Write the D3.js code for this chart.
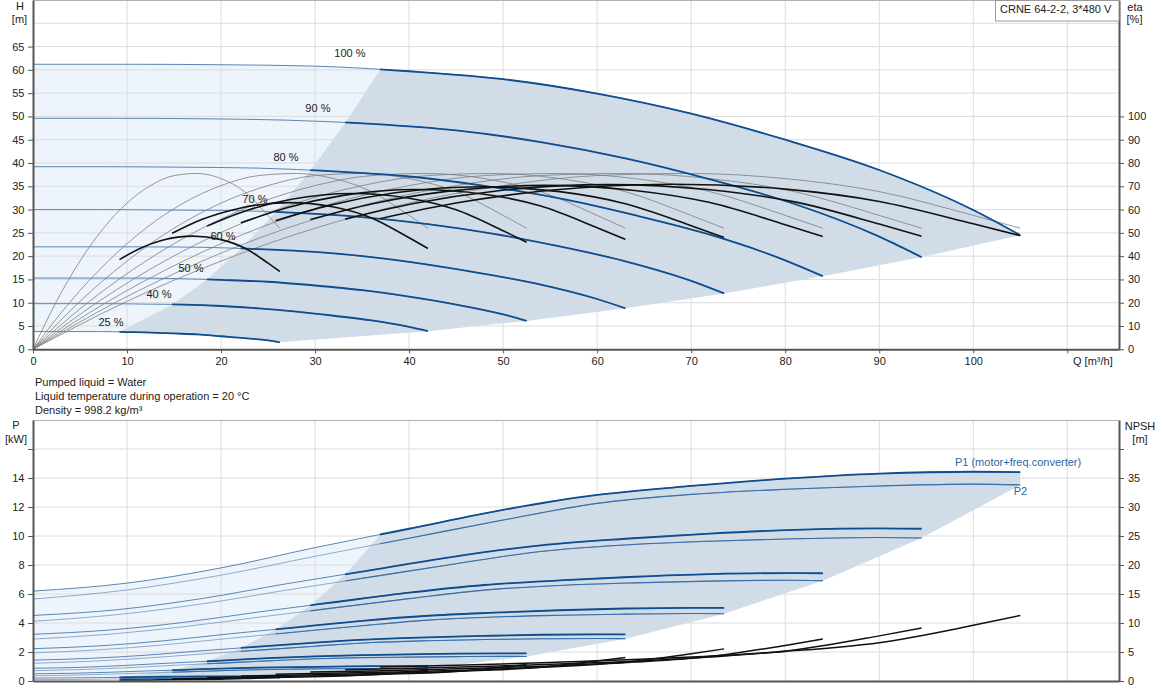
<!DOCTYPE html>
<html><head><meta charset="utf-8">
<script src="https://cdn.jsdelivr.net/npm/d3@7"></script>
<style>
body{margin:0;background:#fff}
svg{display:block}
text{font-family:"Liberation Sans",Arial,sans-serif;font-size:11px;fill:#222}
</style>
</head><body>
<svg id="c" width="1162" height="700"></svg>
<script>
// ---------------- DATA ----------------
const speeds = ["100 %","90 %","80 %","70 %","60 %","50 %","40 %","25 %"];

// flow grid of each speed curve [m3/h]
const qGrid = [
  [0,10,20,30,40,50,60,70,80,90,100,105],
  [0,9,18,27,36,45,54,63,72,81,90,94.5],
  [0,8,16,24,32,40,48,56,64,72,80,84],
  [0,7,14,21,28,35,42,49,56,63,70,73.5],
  [0,6,12,18,24,30,36,42,48,54,60,63],
  [0,5,10,15,20,25,30,35,40,45,50,52.5],
  [0,4,8,12,16,20,24,28,32,36,40,42],
  [0,2.5,5,7.5,10,12.5,15,17.5,20,22.5,25,26.25]
];
// head H [m]
const headH = [
  [61.2,61.2,61.1,60.8,59.7,58.0,54.9,50.6,45.0,38.5,29.9,24.5],
  [49.6,49.6,49.5,49.2,48.4,47.0,44.5,41.0,36.5,31.2,24.2,19.8],
  [39.2,39.2,39.1,38.9,38.2,37.1,35.1,32.4,28.8,24.6,19.1,15.7],
  [30.0,30.0,29.9,29.8,29.3,28.4,26.9,24.8,22.1,18.9,14.7,12.0],
  [22.0,22.0,22.0,21.9,21.5,20.9,19.8,18.2,16.2,13.9,10.8,8.8],
  [15.3,15.3,15.3,15.2,14.9,14.5,13.7,12.7,11.3,9.6,7.5,6.1],
  [9.8,9.8,9.8,9.7,9.6,9.3,8.8,8.1,7.2,6.2,4.8,3.9],
  [3.8,3.8,3.8,3.8,3.7,3.6,3.4,3.2,2.8,2.4,1.9,1.5]
];
// pump efficiency (thin curves) on qGrid [%]
const etaPump = [0,20.6,37.9,52.0,62.8,70.3,74.6,75.5,73.3,67.7,57.5,52.0];

// flow grid of the operating range curves [m3/h]
const qThick = [
  [36.9,45,55,68,80,90,100,105],
  [33.2,40.5,49.5,61.2,72,81,90,94.5],
  [29.5,36,44,54.4,64,72,80,84],
  [25.8,31.5,38.5,47.6,56,63,70,73.5],
  [22.1,27,33,40.8,48,54,60,63],
  [18.5,22.5,27.5,34,40,45,50,52.5],
  [14.8,18,22,27.2,32,36,40,42],
  [9.2,11.25,13.75,17,20,22.5,25,26.25]
];
// total efficiency (thick black curves) [%]
const etaTotal = [
  [56.1,62.8,68.3,70.9,68.8,63.5,53.9,48.8],
  [55.9,62.6,68.1,70.7,68.5,63.3,53.8,48.6],
  [55.7,62.4,67.8,70.4,68.2,63.0,53.5,48.4],
  [55.2,61.8,67.2,69.8,67.7,62.5,53.1,48.0],
  [54.3,60.8,66.1,68.6,66.6,61.5,52.2,47.2],
  [52.9,59.3,64.4,66.9,64.9,59.9,50.9,46.0],
  [49.8,55.8,60.6,63.0,61.1,56.4,47.9,43.3],
  [38.5,43.1,46.8,48.6,47.1,43.5,37.0,33.4]
];
// NPSH [m] on qThick
const npsh = [
  [2.40,2.70,3.20,4.00,5.10,6.60,9.60,11.30],
  [1.94,2.19,2.59,3.24,4.13,5.35,7.78,9.15],
  [1.54,1.73,2.05,2.56,3.26,4.22,6.14,7.23],
  [1.18,1.32,1.57,1.96,2.50,3.23,4.70,5.54],
  [0.86,0.97,1.15,1.44,1.84,2.38,3.46,4.07],
  [0.60,0.68,0.80,1.00,1.28,1.65,2.40,2.83],
  [0.38,0.43,0.51,0.64,0.82,1.06,1.54,1.81],
  [0.15,0.17,0.20,0.25,0.32,0.41,0.60,0.71]
];
// P1 (motor + freq. converter) [kW] on qGrid
const powerP1 = [
  [6.20,6.75,7.80,9.20,10.50,11.80,12.83,13.45,13.95,14.30,14.43,14.41],
  [4.52,4.92,5.69,6.71,7.65,8.60,9.35,9.81,10.17,10.42,10.52,10.50],
  [3.22,3.51,4.04,4.76,5.43,6.09,6.62,6.94,7.19,7.37,7.44,7.43],
  [2.23,2.42,2.78,3.26,3.70,4.15,4.50,4.71,4.88,5.00,5.05,5.04],
  [1.44,1.56,1.78,2.09,2.37,2.65,2.87,3.01,3.11,3.19,3.22,3.21],
  [0.88,0.94,1.08,1.25,1.41,1.58,1.70,1.78,1.84,1.89,1.90,1.90],
  [0.50,0.53,0.60,0.69,0.77,0.86,0.92,0.96,0.99,1.02,1.02,1.02],
  [0.20,0.21,0.22,0.24,0.26,0.28,0.30,0.31,0.32,0.32,0.33,0.33]
];
// P2 [kW] on qGrid
const powerP2 = [
  [5.65,6.28,7.30,8.60,9.85,11.10,12.25,12.87,13.22,13.45,13.58,13.52],
  [4.12,4.58,5.32,6.27,7.18,8.09,8.93,9.38,9.64,9.81,9.90,9.86],
  [2.89,3.22,3.74,4.40,5.04,5.68,6.27,6.59,6.77,6.89,6.95,6.92],
  [1.94,2.15,2.50,2.95,3.38,3.81,4.20,4.41,4.53,4.61,4.66,4.64],
  [1.22,1.36,1.58,1.86,2.13,2.40,2.65,2.78,2.86,2.91,2.93,2.92],
  [0.71,0.79,0.91,1.08,1.23,1.39,1.53,1.61,1.65,1.68,1.70,1.69],
  [0.36,0.40,0.47,0.55,0.63,0.71,0.78,0.82,0.85,0.86,0.87,0.87],
  [0.09,0.10,0.11,0.13,0.15,0.17,0.19,0.20,0.21,0.21,0.21,0.21]
];
// start of the operating range of each speed
const qStart  = [36.9,33.2,29.5,25.8,22.1,18.5,14.8,9.2];
const hStart  = [60.0,48.6,38.4,29.4,21.6,15.0,9.6,3.75];
const p1Start = [10.07,7.34,5.21,3.55,2.28,1.36,0.74,0.26];

// tick labels
const qTicks = [0,10,20,30,40,50,60,70,80,90,100];
const hTicks = [0,5,10,15,20,25,30,35,40,45,50,55,60,65];
const etaTicks = [0,10,20,30,40,50,60,70,80,90,100];
const pTicks = [0,2,4,6,8,10,12,14];
const npshTicks = [0,5,10,15,20,25,30,35];

const infoLines = ["Pumped liquid = Water","Liquid temperature during operation = 20 °C","Density = 998.2 kg/m³"];
const pumpName = "CRNE 64-2-2, 3*480 V";

// label placements (in data units)
const labelQ = [33.7,30.3,26.9,23.6,20.2,16.8,13.4,8.3];
const labelH = [63.6,51.8,41.3,32.3,24.3,17.4,11.9,5.9];

// ---------------- DRAW ----------------
const svg = d3.select('#c');
const X0 = 33, X1 = 1119;
const x = d3.scaleLinear().domain([0,115.5]).range([X0,X1]);
const yH = d3.scaleLinear().domain([0,75]).range([349.3,0]);
const yEta = d3.scaleLinear().domain([0,150]).range([349.3,0]);
const yP = d3.scaleLinear().domain([0,18]).range([681,420]);
const yN = d3.scaleLinear().domain([0,45]).range([681,420]);

const LIGHT = '#edf4fb', DARK = '#d0dce8', GRID = '#dcdcdc';
const BLUE = '#0f4e8e', BLUE_THIN = '#5b86b5';

const defs = svg.append('defs');
qStart.forEach((q,i)=>{
  defs.append('clipPath').attr('id','cl'+i).append('rect')
    .attr('x',x(q)).attr('y',0).attr('width',X1-x(q)).attr('height',700);
});

const pts = (qs,vs)=>qs.map((q,k)=>[q,vs[k]]);
const curveL = ys => d3.line().x(d=>x(d[0])).y(d=>ys(d[1])).curve(d3.curveMonotoneX);
const linL = ys => d3.line().x(d=>x(d[0])).y(d=>ys(d[1]));
const last = a => a[a.length-1];

// ---- Shaded regions TOP ----
{
  const cur = curveL(yH), lin = linL(yH);
  const top = pts(qGrid[0],headH[0]).filter(d=>d[0]<qStart[0]).concat([[qStart[0],hStart[0]]]);
  const rest = [];
  for(let i=1;i<8;i++) rest.push([qStart[i],hStart[i]]);
  pts(qGrid[7],headH[7]).filter(d=>d[0]<qStart[7]).reverse().forEach(d=>rest.push(d));
  svg.append('path').attr('d', cur(top)+lin(rest).replace('M','L')+'Z').attr('fill',LIGHT);

  const top2 = [[qStart[0],hStart[0]]].concat(pts(qGrid[0],headH[0]).filter(d=>d[0]>qStart[0]));
  const rest2 = [];
  for(let i=1;i<8;i++) rest2.push([last(qGrid[i]), last(headH[i])]);
  pts(qGrid[7],headH[7]).filter(d=>d[0]>qStart[7] && d[0]<last(qGrid[7])).reverse().forEach(d=>rest2.push(d));
  for(let i=7;i>=1;i--) rest2.push([qStart[i],hStart[i]]);
  svg.append('path').attr('d', cur(top2)+lin(rest2).replace('M','L')+'Z').attr('fill',DARK);
}
// ---- Shaded regions BOTTOM ----
{
  const cur = curveL(yP), lin = linL(yP);
  const top = pts(qGrid[0],powerP1[0]).filter(d=>d[0]<qStart[0]).concat([[qStart[0],p1Start[0]]]);
  const rest = [];
  for(let i=1;i<8;i++) rest.push([qStart[i],p1Start[i]]);
  pts(qGrid[7],powerP1[7]).filter(d=>d[0]<qStart[7]).reverse().forEach(d=>rest.push(d));
  svg.append('path').attr('d', cur(top)+lin(rest).replace('M','L')+'Z').attr('fill',LIGHT);

  const top2 = [[qStart[0],p1Start[0]]].concat(pts(qGrid[0],powerP1[0]).filter(d=>d[0]>qStart[0]));
  const rest2 = [];
  for(let i=0;i<8;i++) rest2.push([last(qGrid[i]), last(powerP2[i])]);
  pts(qGrid[7],powerP2[7]).filter(d=>d[0]>qStart[7] && d[0]<last(qGrid[7])).reverse().forEach(d=>rest2.push(d));
  for(let i=7;i>=1;i--) rest2.push([qStart[i],p1Start[i]]);
  svg.append('path').attr('d', cur(top2)+lin(rest2).replace('M','L')+'Z').attr('fill',DARK);
}

// ---- Grid ----
const gridQ = [10,20,30,40,50,60,70,80,90,100,110];
const gridH = [5,10,15,20,25,30,35,40,45,50,55,60,65,70];
const gridP = [2,4,6,8,10,12,14,16];
const g = svg.append('g').attr('stroke',GRID).attr('stroke-width',1);
gridQ.forEach(q=>{
  g.append('line').attr('x1',x(q)).attr('x2',x(q)).attr('y1',0).attr('y2',yH(0));
  g.append('line').attr('x1',x(q)).attr('x2',x(q)).attr('y1',420).attr('y2',yP(0));
});
gridH.forEach(h=>g.append('line').attr('x1',X0).attr('x2',X1).attr('y1',yH(h)).attr('y2',yH(h)));
gridP.forEach(p=>g.append('line').attr('x1',X0).attr('x2',X1).attr('y1',yP(p)).attr('y2',yP(p)));
// top borders
svg.append('line').attr('x1',X0).attr('x2',X1).attr('y1',0.5).attr('y2',0.5).attr('stroke','#b0b0b0');
svg.append('line').attr('x1',X0).attr('x2',X1).attr('y1',420.5).attr('y2',420.5).attr('stroke','#b0b0b0');

// ---- TOP curves ----
const lineH = curveL(yH), lineEta = curveL(yEta);
const gt = svg.append('g').attr('fill','none');
for(let i=0;i<8;i++){
  gt.append('path').attr('d',lineH(pts(qGrid[i],headH[i]))).attr('stroke',BLUE_THIN).attr('stroke-width',1);
}
for(let i=0;i<8;i++){
  gt.append('path').attr('d',lineEta(pts(qGrid[i],etaPump))).attr('stroke','#7d7d7d').attr('stroke-width',0.8);
}
for(let i=0;i<8;i++){
  gt.append('path').attr('d',lineH(pts(qGrid[i],headH[i]))).attr('stroke',BLUE).attr('stroke-width',1.8)
    .attr('clip-path','url(#cl'+i+')');
}
for(let i=0;i<8;i++){
  gt.append('path').attr('d',lineEta(pts(qThick[i],etaTotal[i]))).attr('stroke','#111').attr('stroke-width',1.6);
}

// ---- BOTTOM curves ----
const lineP = curveL(yP), lineN = curveL(yN);
const gb = svg.append('g').attr('fill','none');
for(let i=0;i<8;i++){
  gb.append('path').attr('d',lineP(pts(qGrid[i],powerP1[i]))).attr('stroke',BLUE_THIN).attr('stroke-width',1);
  gb.append('path').attr('d',lineP(pts(qGrid[i],powerP2[i]))).attr('stroke','#7598c0').attr('stroke-width',0.8);
}
for(let i=0;i<8;i++){
  gb.append('path').attr('d',lineP(pts(qGrid[i],powerP2[i]))).attr('stroke','#3a6ea6').attr('stroke-width',1.1)
    .attr('clip-path','url(#cl'+i+')');
  gb.append('path').attr('d',lineP(pts(qGrid[i],powerP1[i]))).attr('stroke',BLUE).attr('stroke-width',1.8)
    .attr('clip-path','url(#cl'+i+')');
}
for(let i=0;i<8;i++){
  gb.append('path').attr('d',lineN(pts(qThick[i],npsh[i]))).attr('stroke','#111').attr('stroke-width',1.5);
}

// ---- Speed labels ----
speeds.forEach((s,i)=>{
  svg.append('text').attr('x',x(labelQ[i])).attr('y',yH(labelH[i])+4)
    .attr('text-anchor','middle').text(s);
});
svg.append('text').attr('x',x(98.05)).attr('y',yP(15.1)+4).style('fill','#2f65a0').text('P1 (motor+freq.converter)');
svg.append('text').attr('x',x(104.3)).attr('y',yP(13.1)+4).style('fill','#2f65a0').text('P2');

// ---- Axes ----
function styleAxis(sel){
  sel.select('.domain').attr('stroke','#555').attr('stroke-width',2);
  sel.selectAll('.tick line').attr('stroke','#555');
  sel.selectAll('.tick text').style('font-size','11px').style('fill','#222').attr('font-family',null);
}
const fmtIn = arr => d => arr.includes(d) ? d : '';
// top
svg.append('g').attr('transform',`translate(${X0},0)`)
  .call(d3.axisLeft(yH).tickValues(hTicks).tickSize(5).tickPadding(3.5).tickSizeOuter(0)).call(styleAxis);
svg.append('g').attr('transform',`translate(${X1},0)`)
  .call(d3.axisRight(yEta).tickValues(etaTicks).tickSize(5).tickPadding(4).tickSizeOuter(0)).call(styleAxis);
svg.append('g').attr('transform',`translate(0,${yH(0)})`)
  .call(d3.axisBottom(x).tickValues(qTicks.concat([110])).tickFormat(fmtIn(qTicks)).tickSize(4).tickPadding(4).tickSizeOuter(0)).call(styleAxis);
// bottom
svg.append('g').attr('transform',`translate(${X0},0)`)
  .call(d3.axisLeft(yP).tickValues(pTicks.concat([16])).tickFormat(fmtIn(pTicks)).tickSize(5).tickPadding(3.5).tickSizeOuter(0)).call(styleAxis);
svg.append('g').attr('transform',`translate(${X1},0)`)
  .call(d3.axisRight(yN).tickValues(npshTicks.concat([40])).tickFormat(fmtIn(npshTicks)).tickSize(5).tickPadding(4).tickSizeOuter(0)).call(styleAxis);
svg.append('g').attr('transform',`translate(0,${yP(0)})`)
  .call(d3.axisBottom(x).tickValues([]).tickSizeOuter(0)).call(styleAxis);

// ---- Axis titles ----
const t = (tx,ty,s,anchor='middle')=>svg.append('text').attr('x',tx).attr('y',ty).attr('text-anchor',anchor).text(s);
t(20,10,'H'); t(19.5,23,'[m]');
t(1135,11,'eta'); t(1134.5,23,'[%]');
t(16,429,'P'); t(16,443,'[kW]');
t(1140,430,'NPSH'); t(1140,443,'[m]');
t(1073,365,'Q [m³/h]','start');

// ---- Info lines ----
infoLines.forEach((s,i)=>t(35,386+i*14,s,'start'));

// ---- Legend box ----
svg.append('rect').attr('x',995.5).attr('y',0.5).attr('width',123.5).attr('height',20.5)
  .attr('fill','#fff').attr('stroke','#9a9a9a');
t(1000,12.5,pumpName,'start');
</script>
</body></html>
